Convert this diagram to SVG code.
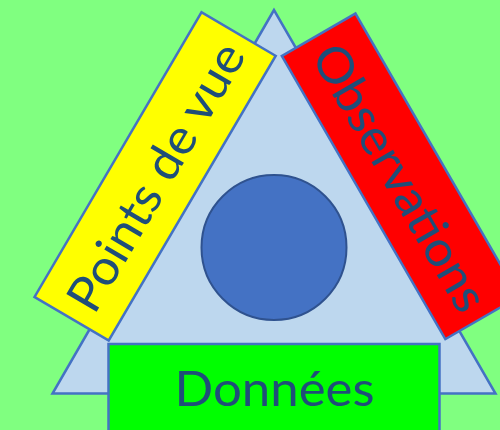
<svg xmlns="http://www.w3.org/2000/svg" width="500" height="430" viewBox="0 0 500 430">
<style>
.bg{fill:#80ff80}
.tri{fill:#bdd7ee;stroke:#4472c4;stroke-width:2.5;stroke-linejoin:miter}
.core{fill:#4472c4;stroke:#2f528f;stroke-width:2}
.box{stroke:#4472c4;stroke-width:2.5}
.lbl{font-family:Lato,"Open Sans","Liberation Sans",sans-serif;font-size:49px;fill:#1f4e79;text-anchor:middle}
</style>
<rect class="bg" x="0" y="0" width="500" height="430"/>
<g id="triangle"><polygon class="tri" points="274,10 52.5,393.5 495.5,393.5"/></g>
<g id="centre"><circle class="core" cx="274" cy="247.5" r="72.5"/></g>
<g id="points-de-vue" transform="translate(155.1,176.4) rotate(-59.6)">
<rect class="box" x="-165" y="-43" width="330" height="86" fill="#ffff00"/>
<text class="lbl" x="0" y="18" textLength="302" lengthAdjust="spacingAndGlyphs">Points de vue</text>
</g>
<g id="observations" transform="translate(400.4,176.3) rotate(60)">
<rect class="box" x="-163.5" y="-42.5" width="327" height="85" fill="#ff0000"/>
<text class="lbl" x="1" y="18" textLength="300" lengthAdjust="spacingAndGlyphs">Observations</text>
</g>
<g id="donnees">
<rect class="box" x="108.5" y="344" width="331" height="92" fill="#00ff00"/>
<text class="lbl" x="274.5" y="406" textLength="200" lengthAdjust="spacingAndGlyphs">Données</text>
</g>
<g id="connectors"/>
</svg>
